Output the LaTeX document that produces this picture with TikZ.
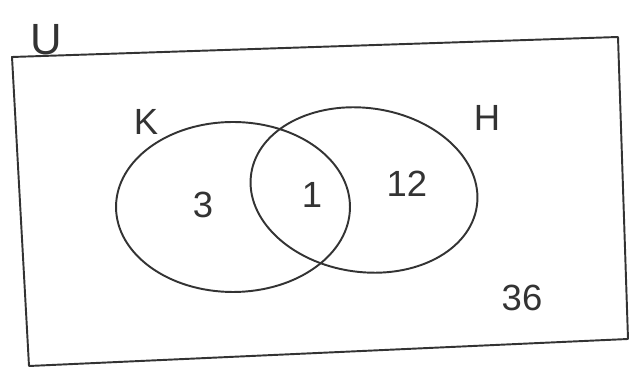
\documentclass[tikz,border=0pt]{standalone}
\usepackage{fontspec}
\setmainfont{Liberation Sans}
\usetikzlibrary{shapes.geometric}

\begin{document}
\begin{tikzpicture}[
				x=0.02cm, y=-0.02cm,
				pen/.style={draw=black!80, line width=1.1pt},
				setk/.style={pen, ellipse, minimum width=4.68cm, minimum height=3.4cm, inner sep=0pt},
				lbl/.style={font=\huge, text=black!80, inner sep=0pt}
				]
				\useasboundingbox (0,0) rectangle (632,374);
				% universe
				\coordinate (tl) at (12,57);
				\coordinate (tr) at (618,37);
				\coordinate (br) at (628,339);
				\coordinate (bl) at (29,366);
				\draw[pen, line join=round] (tl) -- (tr) -- (br) -- (bl) -- cycle;
				\node[lbl, font=\Huge, anchor=south] (u) at (46,55) {U};
				% the two sets
				\node[setk] (k) at (233,207) {};
				\node[setk, minimum width=4.56cm, minimum height=3.28cm, rotate=-8] (h) at (364,190) {};
				\node[lbl] (klab) at (146,122) {K};
				\node[lbl] (hlab) at (487,118) {H};
				% counts
				\node[lbl] (nk) at (203,205) {3};
				\node[lbl] (nkh) at (312,195) {1};
				\node[lbl] (nh) at (407,184) {12};
				\node[lbl] (nout) at (522,298) {36};
			\end{tikzpicture}
\end{document}
